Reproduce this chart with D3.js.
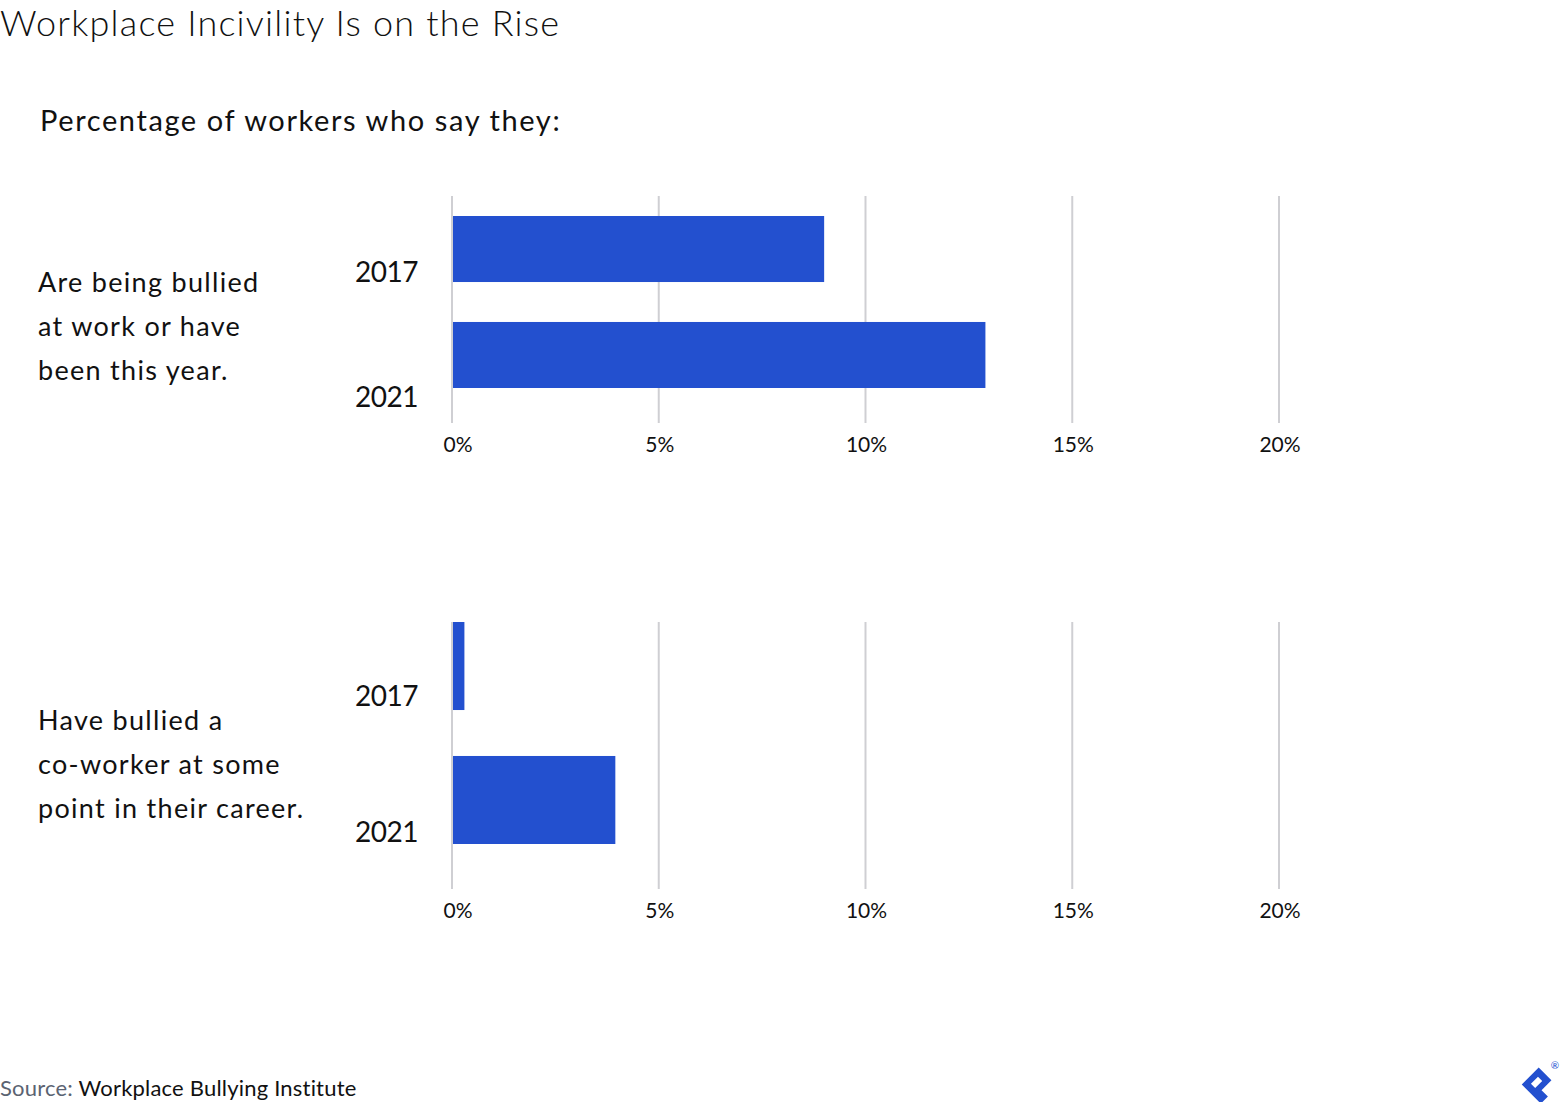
<!DOCTYPE html>
<html>
<head>
<meta charset="utf-8">
<script src="https://cdn.jsdelivr.net/npm/d3@7"></script>
<style>
  body { margin: 0; background: #fff; }
  svg { display: block; font-family: Lato, "Open Sans", sans-serif; }
</style>
</head>
<body>
<div id="chart"></div>
<script>
// Chart data
const years = ["2017", "2021"];
const bulliedValues = [9, 12.9];
const bullyingValues = [0.3, 3.95];
const bulliedLabel = ["Are being bullied", "at work or have", "been this year."];
const bullyingLabel = ["Have bullied a", "co-worker at some", "point in their career."];
const tickValues = [0, 5, 10, 15, 20];

const width = 1560, height = 1102;
const barColor = "#2350cf";

const svg = d3.select("#chart")
    .append("svg")
    .attr("width", width)
    .attr("height", height);

// x scale shared by both panels
const x = d3.scaleLinear()
    .domain([0, 20])
    .range([452, 1279]);

// Title and subtitle
svg.append("text")
    .attr("x", 0)
    .attr("y", 36)
    .attr("font-size", 36)
    .attr("font-weight", 300)
    .attr("letter-spacing", 1.2)
    .attr("fill", "#111")
    .text("Workplace Incivility Is on the Rise");

svg.append("text")
    .attr("x", 40)
    .attr("y", 131)
    .attr("font-size", 29)
    .attr("letter-spacing", 1.6)
    .attr("fill", "#111")
    .text("Percentage of workers who say they:");

const panels = [
    {values: bulliedValues, label: bulliedLabel, gridTop: 196, gridBottom: 423,
     band: [216, 388], pad: 0.377, labelY: [282, 407], textTop: 292, tickY: 452},
    {values: bullyingValues, label: bullyingLabel, gridTop: 622, gridBottom: 889,
     band: [622, 844], pad: 0.343, labelY: [706, 842], textTop: 730, tickY: 918}
];

panels.forEach(p => {
    const g = svg.append("g");

    const y = d3.scaleBand()
        .domain(years)
        .range(p.band)
        .paddingInner(p.pad)
        .paddingOuter(0);

    // gridlines
    g.selectAll(".grid")
        .data(tickValues)
        .enter()
        .append("line")
        .attr("x1", d => x(d))
        .attr("x2", d => x(d))
        .attr("y1", p.gridTop)
        .attr("y2", p.gridBottom)
        .attr("stroke", "#cfcfd3")
        .attr("stroke-width", 2);

    // tick labels
    g.selectAll(".tick")
        .data(tickValues)
        .enter()
        .append("text")
        .attr("x", d => x(d) + (d === 0 ? 6 : 1))
        .attr("y", p.tickY)
        .attr("text-anchor", "middle")
        .attr("font-size", 21)
        .attr("fill", "#111")
        .text(d => d + "%");

    // bars
    g.selectAll(".bar")
        .data(p.values)
        .enter()
        .append("rect")
        .attr("x", x(0) + 1)
        .attr("y", (d, i) => y(years[i]))
        .attr("width", d => x(d) - x(0) - 1)
        .attr("height", y.bandwidth())
        .attr("fill", barColor);

    // year labels
    g.selectAll(".year")
        .data(years)
        .enter()
        .append("text")
        .attr("x", 355)
        .attr("y", (d, i) => p.labelY[i])
        .attr("font-size", 28)
        .attr("letter-spacing", -0.5)
        .attr("fill", "#111")
        .text(d => d);

    // category label
    g.selectAll(".cat")
        .data(p.label)
        .enter()
        .append("text")
        .attr("x", 38)
        .attr("y", (d, i) => p.textTop + i * 44)
        .attr("font-size", 27)
        .attr("letter-spacing", 1.3)
        .attr("fill", "#111")
        .text(d => d);
});

// Source
const src = svg.append("text")
    .attr("x", 0)
    .attr("y", 1096)
    .attr("font-size", 22)
    .attr("letter-spacing", 0.2);
src.append("tspan").attr("fill", "#5b6372").text("Source: ");
src.append("tspan").attr("fill", "#111").text("Workplace Bullying Institute");

// Logo mark
const logo = svg.append("g")
    .attr("transform", "translate(1538,1081) rotate(-45)");
logo.append("path")
    .attr("fill-rule", "evenodd")
    .attr("fill", "#2350cf")
    .attr("d", "M-14,-9 H10 V9 H-4 V18 H-14 Z M-7,-3 V3 H3 V-3 Z");
svg.append("text")
    .attr("x", 1555)
    .attr("y", 1069)
    .attr("font-size", 10)
    .attr("text-anchor", "middle")
    .attr("fill", "#2350cf")
    .text("®");
</script>
</body>
</html>
